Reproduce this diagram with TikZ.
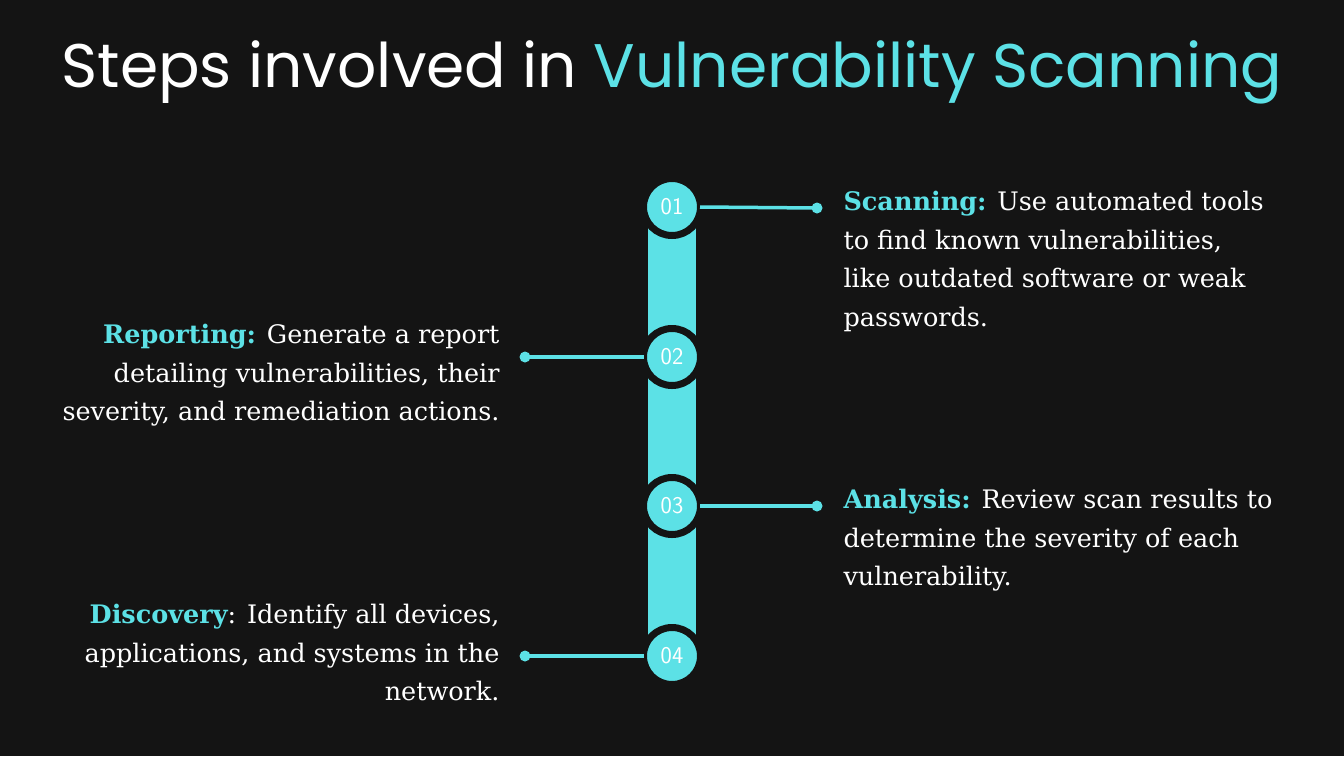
\documentclass[tikz,border=0pt]{standalone}
\usepackage{fontspec}
\setmainfont{DejaVu Serif}
\newfontfamily\titlefont{Poppins}
\definecolor{bg}{HTML}{141414}
\definecolor{cy}{HTML}{5CE1E6}
\tikzset{
 stepcirc/.style={circle,fill=cy,draw=bg,line width=7pt,minimum size=57pt,inner sep=0pt,text=white,font=\sffamily\fontsize{24}{24}\selectfont},
 link/.style={cy,line width=3.5pt},
 dotend/.style={circle,fill=cy,inner sep=0pt,minimum size=11pt},
 bodyr/.style={anchor=north west,align=left,text=white,font=\fontsize{25.5}{38.5}\selectfont},
 bodyl/.style={anchor=north east,align=right,text=white,font=\fontsize{25.5}{38.5}\selectfont},
}
\begin{document}
\begin{tikzpicture}[x=1pt,y=-1pt]
\fill[bg] (0,0) rectangle (1344,756);
\useasboundingbox (0,0) rectangle (1344,756);
\node[text=white,font=\titlefont] (title) at (672,72) {\resizebox{1220pt}{!}{Steps involved in \textcolor{cy}{Vulnerability Scanning}}};
\fill[cy] (648,207) rectangle (696,656);
\node[stepcirc] (c1) at (672,207) {01};
\node[stepcirc] (c2) at (672,357) {02};
\node[stepcirc] (c3) at (672,506) {03};
\node[stepcirc] (c4) at (672,656) {04};
\node[dotend] (d1) at (817,208) {};
\node[dotend] (d2) at (525,357) {};
\node[dotend] (d3) at (817,506) {};
\node[dotend] (d4) at (525,656) {};
\draw[link] ([xshift=-4pt]c1.east) -- (d1.center);
\draw[link] ([xshift=-4pt]c3.east) -- (d3.center);
\draw[link] (d2.center) -- ([xshift=4pt]c2.west);
\draw[link] (d4.center) -- ([xshift=4pt]c4.west);
\node[bodyr] (t1) at (840,188) {\textbf{\textcolor{cy}{Scanning:}} Use automated tools\\to find known vulnerabilities,\\like outdated software or weak\\passwords.};
\node[bodyr] (t3) at (840,486) {\textbf{\textcolor{cy}{Analysis:}} Review scan results to\\determine the severity of each\\vulnerability.};
\node[bodyl] (t2) at (503,321) {\textbf{\textcolor{cy}{Reporting:}} Generate a report\\detailing vulnerabilities, their\\severity, and remediation actions.};
\node[bodyl] (t4) at (503,601) {\textbf{\textcolor{cy}{Discovery}}: Identify all devices,\\applications, and systems in the\\network.};
\end{tikzpicture}
\end{document}
